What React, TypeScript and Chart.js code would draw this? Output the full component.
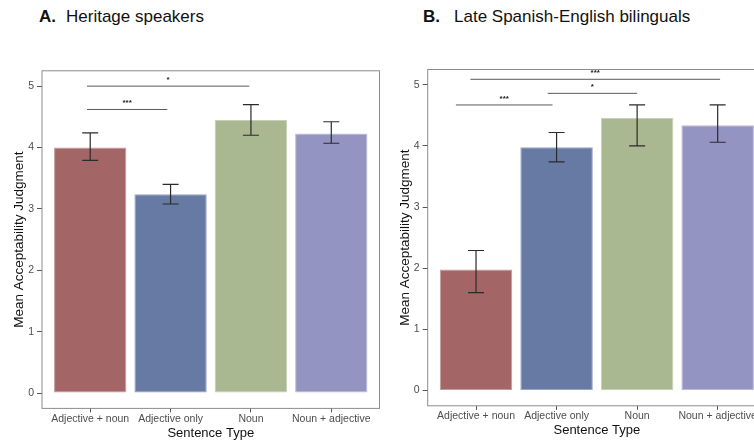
import React, { useEffect, useRef } from "react";
import { Chart, registerables } from "chart.js";

Chart.register(...registerables);

// ---- data ----
const categories = ["Adjective + noun", "Adjective only", "Noun", "Noun + adjective"];
const yTickValues = [0, 1, 2, 3, 4, 5];
const barColors = ["#A36565", "#677AA3", "#A9B890", "#9494C3"];
const barEdges = ["#C39B9B", "#97A5C2", "#C6D0B5", "#B9B9D9"];

const heritageMeans = [4.0, 3.24, 4.45, 4.23];
const heritageLow = [3.79, 3.08, 4.2, 4.07];
const heritageHigh = [4.24, 3.4, 4.7, 4.42];
const heritageSigFrom = [-0.04, -0.04];
const heritageSigTo = [1.98, 0.96];
const heritageSigY = [5.0, 4.62];
const heritageSigLabel = ["*", "***"];

const lateMeans = [1.98, 3.98, 4.46, 4.34];
const lateLow = [1.6, 3.74, 4.0, 4.06];
const lateHigh = [2.29, 4.22, 4.67, 4.67];
const lateSigFrom = [-0.07, 0.89, -0.25];
const lateSigTo = [3.03, 2.0, 0.95];
const lateSigY = [5.09, 4.86, 4.67];
const lateSigLabel = ["***", "*", "***"];

const FONT = '"Liberation Sans", Arial, Helvetica, sans-serif';

const decorPlugin = {
  id: "panelDecor",
  afterDatasetsDraw(chart: any, _args: any, opts: any) {
    const { ctx, chartArea: a, scales } = chart;
    const x = scales.x;
    const y = scales.y;
    ctx.save();
    // error bars
    ctx.strokeStyle = "#2b2b2b";
    ctx.lineWidth = 1.2;
    (opts.low as number[]).forEach((lo, i) => {
      const px = x.getPixelForValue(i);
      const yl = y.getPixelForValue(lo);
      const yh = y.getPixelForValue(opts.high[i]);
      ctx.beginPath();
      ctx.moveTo(px, yl);
      ctx.lineTo(px, yh);
      ctx.moveTo(px - 8, yl);
      ctx.lineTo(px + 8, yl);
      ctx.moveTo(px - 8, yh);
      ctx.lineTo(px + 8, yh);
      ctx.stroke();
    });
    // significance brackets
    ctx.strokeStyle = "#595959";
    ctx.lineWidth = 1;
    ctx.fillStyle = "#222";
    ctx.font = `bold 8px ${FONT}`;
    ctx.textAlign = "center";
    ctx.textBaseline = "alphabetic";
    (opts.sigFrom as number[]).forEach((f, i) => {
      const x1 = x.getPixelForValue(f);
      const x2 = x.getPixelForValue(opts.sigTo[i]);
      const py = y.getPixelForValue(opts.sigY[i]);
      ctx.beginPath();
      ctx.moveTo(x1, py);
      ctx.lineTo(x2, py);
      ctx.stroke();
      ctx.fillText(opts.sigLabel[i], (x1 + x2) / 2, py - 4);
    });
    // panel border
    ctx.strokeStyle = "#8c8c8c";
    ctx.lineWidth = 1;
    ctx.strokeRect(a.left, a.top, a.right - a.left, a.bottom - a.top);
    ctx.restore();
  },
};

type PanelProps = {
  left: number;
  width: number;
  padTop: number;
  padRight: number;
  yAxisWidth: number;
  xAxisHeight: number;
  yTitlePad: number;
  xTitlePad: number;
  means: number[];
  low: number[];
  high: number[];
  sigFrom: number[];
  sigTo: number[];
  sigY: number[];
  sigLabel: string[];
};

function Panel(p: PanelProps) {
  const ref = useRef<HTMLCanvasElement | null>(null);
  useEffect(() => {
    if (!ref.current) return;
    const chart = new Chart(ref.current, {
      type: "bar",
      data: {
        datasets: [
          {
            data: p.means.map((v, i) => ({ x: i, y: v })),
            backgroundColor: barColors,
            borderColor: barEdges,
            borderWidth: 1,
            borderSkipped: false,
            barPercentage: 0.9,
            categoryPercentage: 1,
          } as any,
        ],
      },
      options: {
        animation: false,
        responsive: false,
        layout: { padding: { top: p.padTop, right: p.padRight, left: 0, bottom: 0 } },
        plugins: {
          legend: { display: false },
          tooltip: { enabled: false },
          panelDecor: {
            low: p.low,
            high: p.high,
            sigFrom: p.sigFrom,
            sigTo: p.sigTo,
            sigY: p.sigY,
            sigLabel: p.sigLabel,
          },
        } as any,
        scales: {
          x: {
            type: "linear",
            min: -0.6,
            max: 3.6,
            offset: false,
            border: { display: false },
            grid: {
              display: true,
              offset: false,
              drawOnChartArea: false,
              drawTicks: true,
              tickLength: 4,
              color: "#555",
            },
            afterBuildTicks: (s: any) => {
              s.ticks = categories.map((_, i) => ({ value: i }));
            },
            afterFit: (s: any) => {
              s.height = p.xAxisHeight;
            },
            ticks: {
              autoSkip: false,
              maxRotation: 0,
              padding: 0,
              color: "#4d4d4d",
              font: { family: FONT, size: 10.5 },
              callback: (v: any) => categories[Math.round(Number(v))] ?? "",
            },
            title: {
              display: true,
              text: "Sentence Type",
              color: "#111",
              font: { family: FONT, size: 13, lineHeight: 1 },
              padding: { top: 0, bottom: p.xTitlePad },
            },
          } as any,
          y: {
            type: "linear",
            min: -0.25,
            max: 5.25,
            border: { display: false },
            grid: { display: true, drawOnChartArea: false, drawTicks: true, tickLength: 5, color: "#555" },
            afterBuildTicks: (s: any) => {
              s.ticks = yTickValues.map((v) => ({ value: v }));
            },
            afterFit: (s: any) => {
              s.width = p.yAxisWidth;
            },
            ticks: {
              padding: 3,
              color: "#4d4d4d",
              font: { family: FONT, size: 10.5 },
              callback: (v: any) => String(v),
            },
            title: {
              display: true,
              text: "Mean Acceptability Judgment",
              color: "#111",
              font: { family: FONT, size: 13.5, lineHeight: 1 },
              padding: { top: p.yTitlePad, bottom: 0 },
            },
          },
        },
      },
      plugins: [decorPlugin as any],
    });
    return () => chart.destroy();
  }, []);
  return (
    <canvas
      ref={ref}
      width={p.width}
      height={440}
      style={{ position: "absolute", left: p.left, top: 0, width: p.width, height: 440 }}
    />
  );
}

const titleStyle: React.CSSProperties = {
  position: "absolute",
  top: 8,
  fontFamily: FONT,
  fontSize: 17,
  lineHeight: "17px",
  color: "#111",
  whiteSpace: "nowrap",
};

export default function App() {
  return (
    <div
      style={{
        position: "absolute",
        left: 0,
        top: 0,
        width: 754,
        height: 440,
        overflow: "hidden",
        background: "#fff",
      }}
    >
      <div style={{ ...titleStyle, left: 39, fontWeight: "bold" }}>A.</div>
      <div style={{ ...titleStyle, left: 66 }}>Heritage speakers</div>
      <div style={{ ...titleStyle, left: 423, fontWeight: "bold" }}>B.</div>
      <div style={{ ...titleStyle, left: 454 }}>Late Spanish-English bilinguals</div>
      <Panel
        left={0}
        width={380}
        padTop={70.8}
        padRight={0.5}
        yAxisWidth={42}
        xAxisHeight={31.6}
        yTitlePad={12.25}
        xTitlePad={0.5}
        means={heritageMeans}
        low={heritageLow}
        high={heritageHigh}
        sigFrom={heritageSigFrom}
        sigTo={heritageSigTo}
        sigY={heritageSigY}
        sigLabel={heritageSigLabel}
      />
      <Panel
        left={380}
        width={400}
        padTop={69.5}
        padRight={14}
        yAxisWidth={47.7}
        xAxisHeight={34.2}
        yTitlePad={18.25}
        xTitlePad={3.5}
        means={lateMeans}
        low={lateLow}
        high={lateHigh}
        sigFrom={lateSigFrom}
        sigTo={lateSigTo}
        sigY={lateSigY}
        sigLabel={lateSigLabel}
      />
    </div>
  );
}
